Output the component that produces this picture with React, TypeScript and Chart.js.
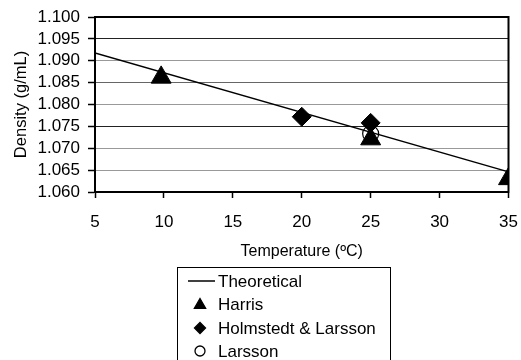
import React, { useEffect, useRef } from "react";
import { Chart, registerables } from "chart.js";
import { drawPoint } from "chart.js/helpers";

Chart.register(...registerables);

const theoryX = [5, 35];
const theoryY = [1.0918, 1.0646];
const harrisX = [9.8, 25, 35];
const harrisY = [1.0862, 1.0721, 1.063];
const holmX = [20, 25];
const holmY = [1.0772, 1.0758];
const larssonX = [25];
const larssonY = [1.0733];
const seriesNames = ["Theoretical", "Harris", "Holmstedt & Larsson", "Larsson"];
const yTicks = [1.06, 1.065, 1.07, 1.075, 1.08, 1.085, 1.09, 1.095, 1.1];

const FONT = "'Liberation Sans', Arial, Helvetica, sans-serif";

const toPts = (xs: number[], ys: number[]) => xs.map((x, i) => ({ x, y: ys[i] }));

const frameAndLegend = {
  id: "frameAndLegend",
  afterDraw(chart: any) {
    const { ctx, chartArea } = chart;
    ctx.save();
    ctx.strokeStyle = "#000";
    ctx.lineWidth = 2;
    ctx.strokeRect(chartArea.left, chartArea.top, chartArea.right - chartArea.left, chartArea.bottom - chartArea.top);
    // legend box
    const bx = 177.5, by = 267.5, bw = 213, bh = 120;
    ctx.lineWidth = 1;
    ctx.strokeRect(bx, by, bw, bh);
    ctx.font = `17px ${FONT}`;
    ctx.fillStyle = "#000";
    ctx.textBaseline = "middle";
    ctx.textAlign = "left";
    const rows = [281, 304, 328, 351];
    chart.data.datasets.forEach((ds: any, i: number) => {
      const y = rows[i];
      if (ds.showLine) {
        ctx.strokeStyle = "#000";
        ctx.lineWidth = 1.5;
        ctx.beginPath();
        ctx.moveTo(188, y);
        ctx.lineTo(215, y);
        ctx.stroke();
      } else {
        const r = ds.pointStyle === "triangle" ? 6.5 : ds.pointStyle === "rectRot" ? 5.5 : 5;
        ctx.fillStyle = ds.pointBackgroundColor;
        ctx.strokeStyle = "#000";
        ctx.lineWidth = 1.3;
        drawPoint(ctx, { pointStyle: ds.pointStyle, radius: r, rotation: 0, borderWidth: 1.3 }, 200, y + (ds.pointStyle === "triangle" ? 1 : 0));
      }
      ctx.fillStyle = "#000";
      ctx.fillText(ds.label, 218, y + 1);
    });
    ctx.restore();
  },
};

function gridColor(v: number) {
  const k = Math.round(v * 1000);
  if (k === 1095 || k === 1075 || k === 1100 || k === 1060) return "#222";
  if (k === 1085) return "#666";
  return "#999";
}

export default function App() {
  const ref = useRef<HTMLCanvasElement>(null);
  useEffect(() => {
    document.body.style.margin = "0";
    const chart = new Chart(ref.current!, {
      type: "scatter",
      data: {
        datasets: [
          {
            label: seriesNames[0],
            type: "line",
            data: toPts(theoryX, theoryY),
            borderColor: "#000",
            borderWidth: 1.5,
            pointRadius: 0,
            showLine: true,
            fill: false,
            order: 4,
          } as any,
          {
            label: seriesNames[1],
            data: toPts(harrisX, harrisY),
            pointStyle: "triangle",
            pointRadius: 11.5,
            pointBackgroundColor: "#000",
            pointBorderColor: "#000",
            pointBorderWidth: 1,
            order: 3,
          },
          {
            label: seriesNames[2],
            data: toPts(holmX, holmY),
            pointStyle: "rectRot",
            pointRadius: 9.5,
            pointBackgroundColor: "#000",
            pointBorderColor: "#000",
            pointBorderWidth: 1,
            order: 2,
          },
          {
            label: seriesNames[3],
            data: toPts(larssonX, larssonY),
            pointStyle: "circle",
            pointRadius: 8,
            pointBackgroundColor: "rgba(255,255,255,0)",
            pointBorderColor: "#000",
            pointBorderWidth: 1.2,
            order: 1,
          },
        ],
      },
      options: {
        animation: false,
        responsive: false,
        events: [],
        layout: { padding: { left: 0, top: 17, right: 11, bottom: 93 } },
        plugins: { legend: { display: false }, tooltip: { enabled: false } },
        scales: {
          x: {
            type: "linear",
            min: 5,
            max: 35,
            ticks: { stepSize: 5, color: "#000", font: { family: FONT, size: 17 }, padding: 14 },
            grid: { drawOnChartArea: false, drawTicks: true, tickLength: 6, tickColor: "#000", tickWidth: 1.5 },
            border: { color: "#000", width: 2 },
            title: {
              display: true,
              text: "Temperature (ºC)",
              color: "#000",
              font: { family: FONT, size: 16 },
              padding: { top: 4, bottom: 6 },
            },
            afterFit: (s: any) => {
              s.height = 75;
              s.paddingLeft = 0;
              s.paddingRight = 0;
            },
          },
          y: {
            type: "linear",
            min: 1.06,
            max: 1.1,
            afterBuildTicks: (s: any) => {
              s.ticks = yTicks.map((v) => ({ value: v }));
            },
            ticks: {
              color: "#000",
              font: { family: FONT, size: 17 },
              padding: 8,
              autoSkip: false,
              callback: (v: any) => Number(v).toFixed(3),
            },
            grid: {
              color: (c: any) => gridColor(c.tick ? c.tick.value : 0),
              lineWidth: 1,
              tickLength: 7,
              tickColor: "#000",
              tickWidth: 1.5,
            },
            border: { color: "#000", width: 2 },
            title: {
              display: true,
              text: "Density (g/mL)",
              color: "#000",
              font: { family: FONT, size: 16.5 },
              padding: { top: 12, bottom: 0 },
            },
            afterFit: (s: any) => {
              s.width = 95;
              s.paddingTop = 0;
              s.paddingBottom = 0;
            },
          },
        },
      },
      plugins: [frameAndLegend],
    });
    return () => chart.destroy();
  }, []);
  return <canvas ref={ref} width={521} height={360} style={{ display: "block" }} />;
}
